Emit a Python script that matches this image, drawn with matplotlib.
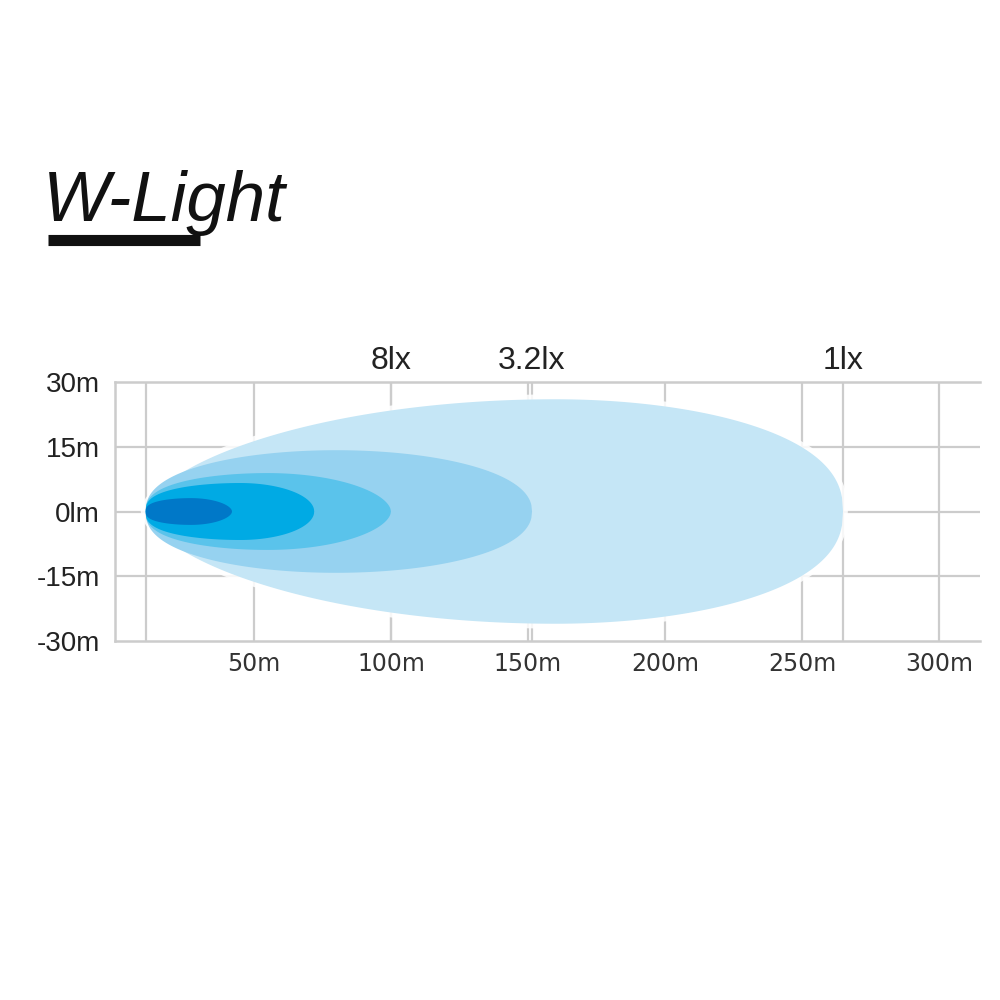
"""Beam pattern chart for the W-Light lamp (lux contours over distance)."""

import numpy as np
import matplotlib
matplotlib.use("Agg")  # no screen needed
import matplotlib.pyplot as plt
from matplotlib.patches import Polygon
from matplotlib.lines import Line2D

# Beam contours, outermost first (distances and half widths in metres)
beam_start = 10.5
beam_reach = [265, 151.5, 100, 72, 42]
beam_peak = [160, 80, 55, 45, 27]
beam_half_width = [26, 14.2, 8.9, 6.6, 3.1]
beam_colors = ["#c5e6f6", "#96d2f0", "#5ac3eb", "#00aae4", "#0078c8"]
# how quickly each contour opens up behind / closes in front of its widest point
beam_taper_near = [0.6, 0.42, 0.38, 0.36, 0.36]
beam_taper_far = [0.42, 0.45, 0.55, 0.5, 0.55]

# Lux labels shown above the chart, at the reach of their contour
lux_labels = ["8lx", "3.2lx", "1lx"]
lux_reach = [100, 151.5, 265]

# Axis ticks
x_ticks = [50, 100, 150, 200, 250, 300]
x_tick_labels = ["50m", "100m", "150m", "200m", "250m", "300m"]
y_ticks = [30, 15, 0, -15, -30]
y_tick_labels = ["30m", "15m", "0lm", "-15m", "-30m"]

GRID = "#cccccc"


def beam_outline(start, peak, reach, half, q_near, q_far):
    """Closed outline: rounded tip at start, widest at peak, round end at reach."""
    t = np.linspace(0, 1, 300)
    xl = start + (peak - start) * t
    yl = half * np.clip(1 - ((peak - xl) / (peak - start)) ** 2, 0, None) ** q_near
    xr = peak + (reach - peak) * t
    yr = half * np.clip(1 - ((xr - peak) / (reach - peak)) ** 2, 0, None) ** q_far
    x = np.concatenate([xl, xr[1:]])
    y = np.concatenate([yl, yr[1:]])
    return np.column_stack([np.concatenate([x, x[::-1]]), np.concatenate([y, -y[::-1]])])


fig = plt.figure(figsize=(10, 10), dpi=100)
ax = fig.add_axes([0.115, 0.359, 0.865, 0.259])
ax.set_xlim(-0.7, 315)
ax.set_ylim(-30, 30)

# Grid: tick distances plus the beam start and the lux reach lines
for x in [beam_start] + x_ticks + lux_reach:
    ax.axvline(x, color=GRID, lw=1.6, zorder=0)
for y in [15, 0, -15]:
    ax.axhline(y, color=GRID, lw=1.6, zorder=0)

# Beam contours, outer one with a soft white rim
beams = zip(beam_reach, beam_peak, beam_half_width, beam_colors, beam_taper_near, beam_taper_far)
for i, (reach, peak, half, color, qn, qf) in enumerate(beams):
    pts = beam_outline(beam_start, peak, reach, half, qn, qf)
    if i == 0:
        ax.add_patch(Polygon(pts, closed=True, facecolor="none", edgecolor="white",
                             lw=7, alpha=0.85, zorder=1))
    ax.add_patch(Polygon(pts, closed=True, facecolor=color, edgecolor="none", zorder=2 + i))

# Lux labels above the top edge
for label, x in zip(lux_labels, lux_reach):
    ax.annotate(label, (x, 30), xytext=(0, 15), textcoords="offset points",
                ha="center", va="center", fontsize=23, family="Liberation Sans", color="#222222")

ax.set_xticks(x_ticks)
ax.set_xticklabels(x_tick_labels, fontsize=17, family="DejaVu Sans", color="#333333")
ax.set_yticks(y_ticks)
ax.set_yticklabels(y_tick_labels, fontsize=20, family="Liberation Sans", color="#222222")
ax.tick_params(axis="x", length=0, pad=8)
ax.tick_params(axis="y", length=0, pad=11)

for side in ["left", "top", "bottom"]:
    ax.spines[side].set_color(GRID)
    ax.spines[side].set_linewidth(1.8)
ax.spines["right"].set_visible(False)

# Logo with its underline bar
fig.text(0.043, 0.797, "W-Light", fontsize=51, style="italic", family="Liberation Sans",
         color="#111111", ha="left", va="center")
fig.add_artist(Line2D([0.048, 0.2], [0.760, 0.760], color="#111111", lw=8,
                      solid_capstyle="butt", transform=fig.transFigure))

fig.savefig("out.png", dpi=100, facecolor="white")
plt.close(fig)
